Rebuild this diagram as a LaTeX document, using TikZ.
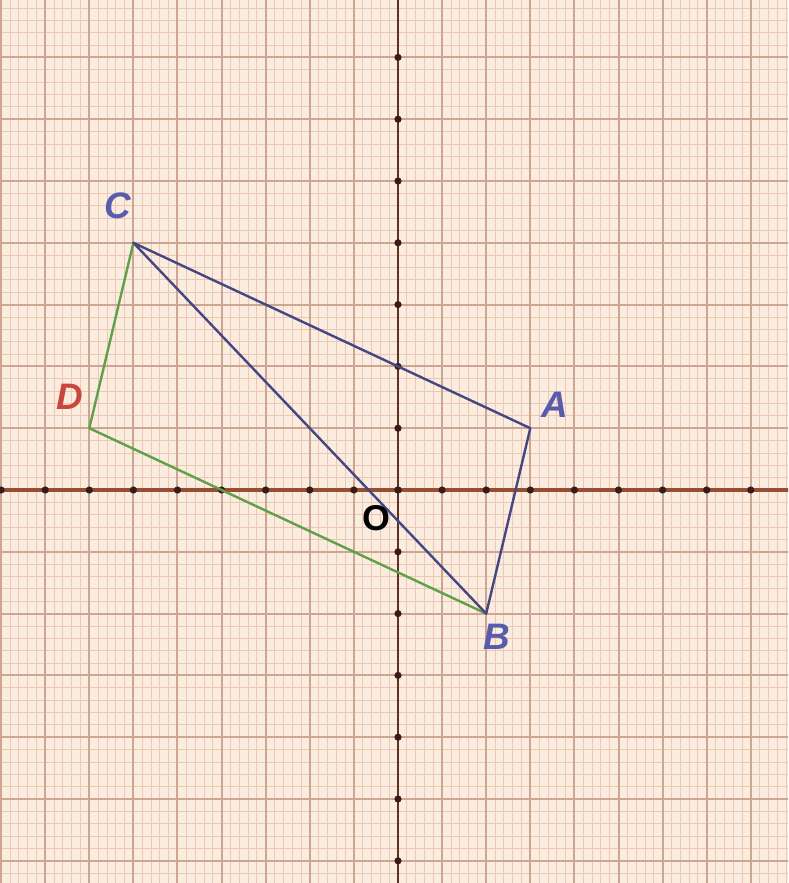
\documentclass[tikz,border=0pt]{standalone}
\usepackage{fontspec}
\setmainfont{Liberation Sans}
\definecolor{paper}{RGB}{251,236,224}
\definecolor{minorgrid}{RGB}{236,200,180}
\definecolor{majorgrid}{RGB}{205,166,146}
\definecolor{axiscol}{RGB}{150,78,52}
\definecolor{yaxiscol}{RGB}{95,50,38}
\definecolor{tickcol}{RGB}{55,28,26}
\definecolor{blueline}{RGB}{70,70,130}
\definecolor{greenline}{RGB}{95,160,72}
\definecolor{bluelabel}{RGB}{88,92,172}
\definecolor{redlabel}{RGB}{200,72,60}
\tikzset{
  minorg/.style={draw=minorgrid, line width=0.8bp},
  majorg/.style={draw=majorgrid, line width=2bp},
  axisline/.style={draw=axiscol, line width=3.2bp},
  yaxisline/.style={draw=yaxiscol, line width=2.4bp},
  tickdot/.style={fill=tickcol},
  bluel/.style={draw=blueline, line width=2.4bp, line join=round, line cap=round},
  greenl/.style={draw=greenline, line width=2.4bp, line join=round, line cap=round},
  ptlabel/.style={font=\fontsize{37}{37}\selectfont\itshape, inner sep=0pt}
}
\begin{document}
\begin{tikzpicture}[x=44.1bp, y=61.8bp]
\useasboundingbox (-9.025,-6.359) rectangle (8.844,7.929);
\fill[paper] (-9.025,-6.359) rectangle (8.844,7.929);
\clip (-9.025,-6.359) rectangle (8.844,7.929);
% grid
\draw[minorg, step=0.2] (-9.2,-6.6) grid (9.2,8.2);
\foreach \i in {-9,...,8} {\draw[majorg] (\i,-6.6) -- (\i,8.2);}
\foreach \j in {-6,...,7} {\draw[majorg] (-9.2,\j) -- (9.2,\j);}
% axes
\draw[axisline] (-9.1,0) -- (8.9,0);
\draw[yaxisline] (0,-6.5) -- (0,8);
% tick dots
\foreach \i in {-9,...,8} {\fill[tickdot] (\i,0) circle[radius=3.6bp];}
\foreach \j in {-6,...,7} {\fill[tickdot] (0,\j) circle[radius=3.6bp];}
% points
\coordinate (A) at (3,1);
\coordinate (B) at (2,-2);
\coordinate (C) at (-6,4);
\coordinate (D) at (-7,1);
% figure
\draw[greenl] (B) -- (D) -- (C);
\draw[bluel] (C) -- (A) -- (B) -- (C);
% labels
\node[ptlabel, text=bluelabel] (lC) at (-6.35,4.60) {\bfseries C};
\node[ptlabel, text=bluelabel] (lA) at (3.56,1.38) {\bfseries A};
\node[ptlabel, text=bluelabel] (lB) at (2.24,-2.38) {\bfseries B};
\node[ptlabel, text=redlabel] (lD) at (-7.44,1.51) {\bfseries D};
\node[font=\fontsize{36}{36}\selectfont\bfseries, inner sep=0pt, text=black] (lO) at (-0.48,-0.45) {O};
\end{tikzpicture}
\end{document}
